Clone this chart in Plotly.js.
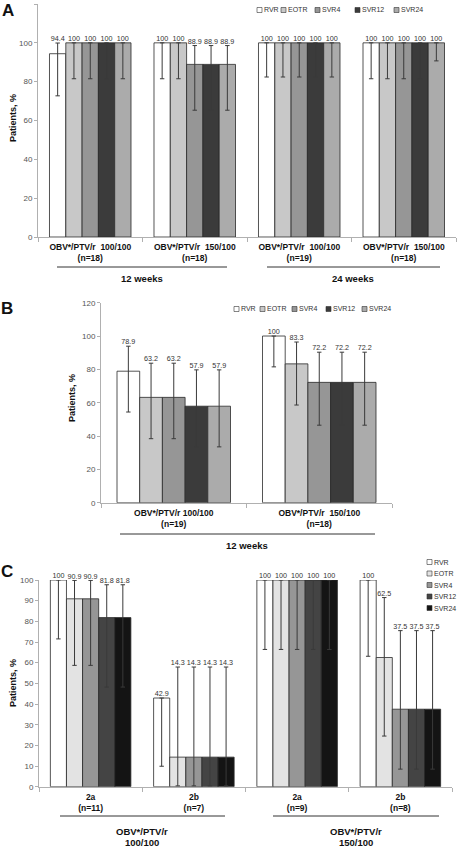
<!DOCTYPE html>
<html><head><meta charset="utf-8">
<script src="https://cdn.plot.ly/plotly-3.0.1.min.js"></script>
<style>html,body{margin:0;padding:0;background:#fff}</style>
</head><body><div id="chart" style="width:458px;height:849px"></div>
<script>
// ---------------- DATA ----------------
const seriesNames = ["RVR", "EOTR", "SVR4", "SVR12", "SVR24"];

// Panel A
const groupsA = ["OBV*/PTV/r &nbsp;100/100<br>(n=18)", "OBV*/PTV/r &nbsp;150/100<br>(n=18)", "OBV*/PTV/r &nbsp;100/100<br>(n=19)", "OBV*/PTV/r &nbsp;150/100<br>(n=18)"];
const A_RVR   = [94.4, 100, 100, 100];
const A_EOTR  = [100, 100, 100, 100];
const A_SVR4  = [100, 88.9, 100, 100];
const A_SVR12 = [100, 88.9, 100, 100];
const A_SVR24 = [100, 88.9, 100, 100];
const A_lo_RVR   = [72.7, 81.5, 82.4, 81.5];
const A_lo_EOTR  = [81.5, 81.5, 82.4, 81.5];
const A_lo_SVR4  = [81.5, 65.3, 82.4, 81.5];
const A_lo_SVR12 = [81.5, 65.3, 82.4, 81.5];
const A_lo_SVR24 = [81.5, 65.3, 82.4, 90.7];
const A_hi_RVR   = [99.9, 100, 100, 100];
const A_hi_EOTR  = [100, 100, 100, 100];
const A_hi_SVR4  = [100, 98.6, 100, 100];
const A_hi_SVR12 = [100, 98.6, 100, 100];
const A_hi_SVR24 = [100, 98.6, 100, 100];
const periodsA = ["12 weeks", "24 weeks"];

// Panel B
const groupsB = ["OBV*/PTV/r 100/100<br>(n=19)", "OBV*/PTV/r &nbsp;150/100<br>(n=18)"];
const B_RVR   = [78.9, 100];
const B_EOTR  = [63.2, 83.3];
const B_SVR4  = [63.2, 72.2];
const B_SVR12 = [57.9, 72.2];
const B_SVR24 = [57.9, 72.2];
const B_lo_RVR   = [54.4, 81.5];
const B_lo_EOTR  = [38.4, 58.6];
const B_lo_SVR4  = [38.4, 46.5];
const B_lo_SVR12 = [33.5, 46.5];
const B_lo_SVR24 = [33.5, 46.5];
const B_hi_RVR   = [93.9, 100];
const B_hi_EOTR  = [83.7, 96.4];
const B_hi_SVR4  = [83.7, 90.3];
const B_hi_SVR12 = [79.7, 90.3];
const B_hi_SVR24 = [79.7, 90.3];
const periodsB = ["12 weeks"];

// Panel C
const groupsC = ["2a<br>(n=11)", "2b<br>(n=7)", "2a<br>(n=9)", "2b<br>(n=8)"];
const C_RVR   = [100, 42.9, 100, 100];
const C_EOTR  = [90.9, 14.3, 100, 62.5];
const C_SVR4  = [90.9, 14.3, 100, 37.5];
const C_SVR12 = [81.8, 14.3, 100, 37.5];
const C_SVR24 = [81.8, 14.3, 100, 37.5];
const C_lo_RVR   = [71.5, 9.9, 66.4, 63.1];
const C_lo_EOTR  = [58.7, 0.4, 66.4, 24.5];
const C_lo_SVR4  = [58.7, 0.4, 66.4, 8.5];
const C_lo_SVR12 = [48.2, 0.4, 66.4, 8.5];
const C_lo_SVR24 = [48.2, 0.4, 66.4, 8.5];
const C_hi_RVR   = [100, 42.9, 100, 100];
const C_hi_EOTR  = [99.8, 57.9, 100, 91.5];
const C_hi_SVR4  = [99.8, 57.9, 100, 75.5];
const C_hi_SVR12 = [97.7, 57.9, 100, 75.5];
const C_hi_SVR24 = [97.7, 57.9, 100, 75.5];
const regimenNameC = "OBV*/PTV/r";
const regimenDoseC = ["100/100", "150/100"];

// ---------------- STYLE ----------------
const colorsAB = ["#ffffff", "#c8c8c8", "#969696", "#3b3b3b", "#ababab"];
const colorsC  = ["#ffffff", "#e3e3e3", "#969696", "#444444", "#141414"];
const W = 458, H = 849;
const px = x => x / W, py = y => 1 - y / H;
const FONT = "Liberation Sans, Arial, sans-serif";
const bw = 0.156;

const panels = [
  {ax: "", groups: groupsA, vals: [A_RVR, A_EOTR, A_SVR4, A_SVR12, A_SVR24],
   lo: [A_lo_RVR, A_lo_EOTR, A_lo_SVR4, A_lo_SVR12, A_lo_SVR24],
   hi: [A_hi_RVR, A_hi_EOTR, A_hi_SVR4, A_hi_SVR12, A_hi_SVR24], colors: colorsAB},
  {ax: "2", groups: groupsB, vals: [B_RVR, B_EOTR, B_SVR4, B_SVR12, B_SVR24],
   lo: [B_lo_RVR, B_lo_EOTR, B_lo_SVR4, B_lo_SVR12, B_lo_SVR24],
   hi: [B_hi_RVR, B_hi_EOTR, B_hi_SVR4, B_hi_SVR12, B_hi_SVR24], colors: colorsAB},
  {ax: "3", groups: groupsC, vals: [C_RVR, C_EOTR, C_SVR4, C_SVR12, C_SVR24],
   lo: [C_lo_RVR, C_lo_EOTR, C_lo_SVR4, C_lo_SVR12, C_lo_SVR24],
   hi: [C_hi_RVR, C_hi_EOTR, C_hi_SVR4, C_hi_SVR12, C_hi_SVR24], colors: colorsC}
];

const traces = [];
panels.forEach(p => {
  const xa = "x" + p.ax, ya = "y" + p.ax;
  seriesNames.forEach((name, j) => {
    const xs = p.groups.map((_, i) => i + (j - 2) * bw);
    const v = p.vals[j];
    traces.push({
      type: "bar", name: name, x: xs, y: v, width: bw, xaxis: xa, yaxis: ya,
      showlegend: false, hoverinfo: "skip",
      marker: {color: p.colors[j], line: {color: "#2a2a2a", width: 0.8}},
      error_y: {type: "data", symmetric: false,
        array: v.map((d, i) => p.hi[j][i] - d),
        arrayminus: v.map((d, i) => d - p.lo[j][i]),
        color: "#3a3a3a", thickness: 1, width: 2.2}
    });
    traces.push({
      type: "scatter", mode: "text", x: xs, y: p.hi[j], xaxis: xa, yaxis: ya,
      text: v.map(d => String(d)), textposition: "top center", cliponaxis: false,
      textfont: {family: FONT, size: 7.2, color: "#333"}, showlegend: false, hoverinfo: "skip"
    });
  });
});

const yaxisBase = (dom, rng, dt, anchor) => ({
  domain: dom, range: rng, dtick: dt, tick0: 0, anchor: anchor,
  showgrid: false, zeroline: false, showline: true, linecolor: "#b0b0b0", linewidth: 1,
  ticks: "outside", ticklen: 3, tickcolor: "#b0b0b0",
  tickfont: {family: FONT, size: 8, color: "#555"}
});
const xaxisBase = (dom, n, groups, anchor) => ({
  domain: dom, range: [-0.5, n - 0.5], anchor: anchor,
  tickmode: "array", tickvals: groups.map((_, i) => i), ticktext: groups,
  ticks: "", ticklabelstandoff: 2, showgrid: false, zeroline: false, showline: true, linecolor: "#b0b0b0", linewidth: 1,
  tickfont: {family: FONT, size: 8.5, color: "#111", weight: "bold"},
  minor: {tickmode: "linear", tick0: -0.5, dtick: 1, ticks: "outside", ticklen: 4, tickcolor: "#b0b0b0", showgrid: false}
});

const layout = {
  width: W, height: H, autosize: false,
  margin: {l: 0, r: 0, t: 0, b: 0},
  paper_bgcolor: "#fff", plot_bgcolor: "rgba(0,0,0,0)",
  barmode: "overlay", showlegend: false,
  xaxis:  xaxisBase([px(38), px(456)], 4, groupsA, "y"),
  yaxis:  yaxisBase([py(237), py(4)], [0, 120], 20, "x"),
  xaxis2: xaxisBase([px(101), px(392)], 2, groupsB, "y2"),
  yaxis2: yaxisBase([py(502.7), py(302.7)], [0, 120], 20, "x2"),
  xaxis3: xaxisBase([px(39), px(452)], 4, groupsC, "y3"),
  yaxis3: yaxisBase([py(786.7), py(580)], [0, 100], 10, "x3"),
  shapes: [], annotations: []
};

const ann = (x, y, text, size, opts) => Object.assign({
  xref: "paper", yref: "paper", x: px(x), y: py(y), text: text, showarrow: false,
  xanchor: "center", yanchor: "middle",
  font: {family: FONT, size: size, color: "#111", weight: "bold"}
}, opts || {});
const hline = (x0, x1, y) => ({type: "line", xref: "paper", yref: "paper",
  x0: px(x0), x1: px(x1), y0: py(y), y1: py(y), line: {color: "#333", width: 1}});

// panel letters
layout.annotations.push(ann(8, 11, "A", 17));
layout.annotations.push(ann(7, 308, "B", 17));
layout.annotations.push(ann(7, 571, "C", 17));
// y titles
layout.annotations.push(ann(13, 118, "Patients, %", 9, {textangle: -90}));
layout.annotations.push(ann(72, 398, "Patients, %", 9, {textangle: -90}));
layout.annotations.push(ann(13, 683, "Patients, %", 9, {textangle: -90}));
// group lines & labels
layout.shapes.push(hline(57, 227, 267), hline(267, 440, 267));
layout.annotations.push(ann(142, 278, periodsA[0], 9.5), ann(353, 278, periodsA[1], 9.5));
layout.shapes.push(hline(120, 375, 534));
layout.annotations.push(ann(247, 545, periodsB[0], 9.5));
layout.shapes.push(hline(60, 225, 816), hline(273, 439, 816));
layout.annotations.push(ann(142, 831, regimenNameC, 9.5), ann(142, 842, regimenDoseC[0], 9.5));
layout.annotations.push(ann(356, 831, regimenNameC, 9.5), ann(356, 842, regimenDoseC[1], 9.5));

// custom legends
function legend(xs, ys, colors) {
  seriesNames.forEach((name, j) => {
    const x = xs[j], y = ys[j];
    layout.shapes.push({type: "rect", xref: "paper", yref: "paper",
      x0: px(x), x1: px(x + 5), y0: py(y + 2.5), y1: py(y - 2.5),
      fillcolor: colors[j], line: {color: "#333", width: 0.6}});
    layout.annotations.push(ann(x + 5, y, name, 7,
      {xanchor: "left", font: {family: FONT, size: 7, color: "#333"}}));
  });
}
legend([257, 281, 315, 355, 394], [10, 10, 10, 10, 10], colorsAB);
legend([234, 260, 292, 326, 362], [309, 309, 309, 309, 309], colorsAB);
legend([427, 427, 427, 427, 427], [562, 573.5, 585, 596.5, 608], colorsC);

Plotly.newPlot("chart", traces, layout, {staticPlot: true, displayModeBar: false});
</script></body></html>
